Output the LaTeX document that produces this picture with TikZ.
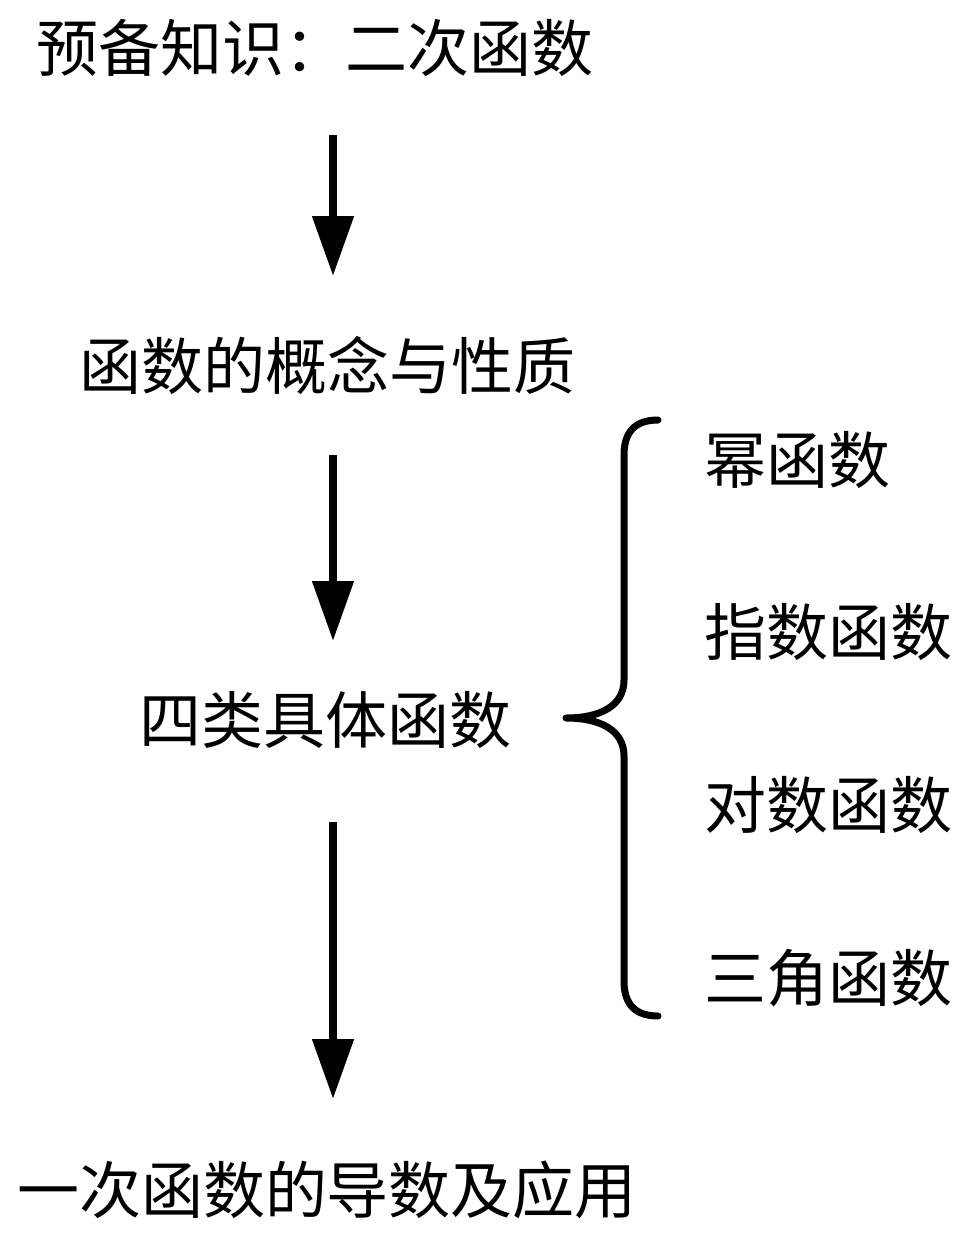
\documentclass[tikz,border=0pt]{standalone}
\usepackage{fontspec}
\newfontfamily\cjk{Noto Sans CJK SC}
\usetikzlibrary{arrows.meta}
\begin{document}
\begin{tikzpicture}[x=1pt,y=-1pt,
  lbl/.style={inner sep=0pt,font=\cjk\fontsize{62}{62}\selectfont},
  rlbl/.style={lbl,anchor=west},
  flow/.style={line width=8pt,-{Triangle[width=40pt,length=60pt]}},
  bracestyle/.style={line width=7pt,line cap=round,line join=round}]
\useasboundingbox (0,0) rectangle (975,1240);
\node[lbl] (a) at (315,48) {预备知识：二次函数};
\node[lbl] (b) at (327,365) {函数的概念与性质};
\node[lbl] (c) at (325,720) {四类具体函数};
\node[lbl] (d) at (327,1190) {一次函数的导数及应用};
\coordinate (a1) at (333,135);
\coordinate (a2) at (333,276);
\coordinate (b1) at (333,455);
\coordinate (b2) at (333,641);
\coordinate (c1) at (333,822);
\coordinate (c2) at (333,1099);
\draw[flow] (a1) -- (a2);
\draw[flow] (b1) -- (b2);
\draw[flow] (c1) -- (c2);
\coordinate (btop) at (658,420);
\coordinate (btip) at (566,718);
\coordinate (bbot) at (658,1016);
\draw[bracestyle] (btop) .. controls (635,420) and (624,432) .. (624,455)
  -- (624,680) .. controls (624,706) and (600,718) .. (btip)
  .. controls (600,718) and (624,730) .. (624,756)
  -- (624,981) .. controls (624,1004) and (635,1016) .. (bbot);
\node[rlbl] (e1) at (704,460) {幂函数};
\node[rlbl] (e2) at (704,632) {指数函数};
\node[rlbl] (e3) at (704,805) {对数函数};
\node[rlbl] (e4) at (704,978) {三角函数};
\end{tikzpicture}
\end{document}
